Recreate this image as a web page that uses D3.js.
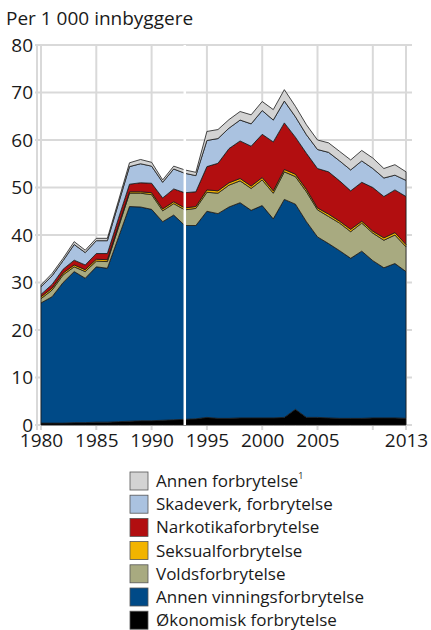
<!DOCTYPE html>
<html>
<head>
<meta charset="utf-8">
<script src="https://cdn.jsdelivr.net/npm/d3@7"></script>
<style>
  body { margin: 0; background: #fff; }
  svg text { font-family: "Open Sans", sans-serif; fill: #1a1a1a; }
</style>
</head>
<body>
<div id="container"></div>
<script>
// data, per 1 000 innbyggere
const years = d3.range(1980, 2014);
const okonomisk = [0.4,0.4,0.4,0.5,0.5,0.6,0.6,0.7,0.8,0.9,0.9,1.0,1.1,1.2,1.3,1.6,1.4,1.4,1.5,1.5,1.5,1.5,1.6,3.3,1.6,1.6,1.5,1.4,1.4,1.4,1.5,1.5,1.5,1.4];
const vinning = [25.3,26.6,29.6,31.8,30.4,32.7,32.4,38.8,45.2,45.0,44.5,41.8,43.1,40.8,40.7,43.4,43.1,44.5,45.3,43.7,44.7,41.9,45.9,43.2,41.2,38.0,36.7,35.3,33.7,35.2,33.1,31.6,32.5,30.9];
const volds = [0.9,1.4,1.6,1.0,1.4,1.2,1.4,2.1,2.8,2.9,3.1,2.3,2.4,3.3,3.6,4.0,4.3,4.6,4.6,4.6,5.4,5.4,5.8,5.8,6.3,5.7,5.7,5.8,5.6,5.9,5.8,5.8,6.0,5.2];
const seksual = [0.4,0.4,0.4,0.4,0.4,0.4,0.4,0.4,0.3,0.3,0.4,0.4,0.4,0.4,0.4,0.5,0.5,0.5,0.5,0.5,0.5,0.5,0.5,0.5,0.5,0.4,0.5,0.4,0.5,0.4,0.4,0.5,0.5,0.5];
const narkotika = [0.5,0.8,0.8,1.0,1.0,1.2,1.3,1.5,1.6,1.9,2.0,2.3,2.7,3.2,3.1,4.9,5.8,7.2,7.9,8.4,9.1,10.3,9.8,7.8,7.6,8.3,8.9,8.5,8.1,8.2,9.2,8.7,9.0,10.1];
const skadeverk = [1.6,1.8,1.8,3.3,2.6,2.7,2.7,3.1,3.7,4.0,3.6,3.3,4.2,4.1,3.4,5.5,5.2,4.3,4.4,4.7,5.0,4.6,4.6,4.3,3.9,4.0,4.1,4.2,4.4,4.5,4.0,3.9,3.1,3.4];
const annen = [0.4,0.5,0.5,0.6,0.5,0.5,0.5,0.6,0.8,0.9,0.8,0.5,0.6,0.7,0.7,1.9,1.9,1.8,1.8,1.9,1.9,2.2,2.4,2.2,2.1,2.0,2.0,2.0,2.1,2.2,2.2,2.0,2.2,1.8];

const keys = ["okonomisk", "vinning", "volds", "seksual", "narkotika", "skadeverk", "annen"];
const labels = ["Økonomisk forbrytelse", "Annen vinningsforbrytelse", "Voldsforbrytelse",
  "Seksualforbrytelse", "Narkotikaforbrytelse", "Skadeverk, forbrytelse", "Annen forbrytelse"];
const colors = ["#000000", "#004a87", "#a8aa80", "#f2b400", "#b20e10", "#aac2e0", "#d3d3d3"];
const yTicks = [0, 10, 20, 30, 40, 50, 60, 70, 80];
const xGrid = [1980, 1985, 1990, 1995, 2000, 2005, 2010, 2013];
const xLabels = [1980, 1985, 1990, 1995, 2000, 2005, 2013];
const breakYear = 1993;

const series = {okonomisk, vinning, volds, seksual, narkotika, skadeverk, annen};
const rows = years.map((yr, i) => {
  const r = {year: yr};
  keys.forEach(k => r[k] = series[k][i]);
  return r;
});

const width = 431, height = 630;
const svg = d3.select("#container").append("svg")
  .attr("width", width).attr("height", height);

const x = d3.scaleLinear([1980, 2013], [41, 406]);
const y = d3.scaleLinear([0, 80], [425, 45]);
const color = d3.scaleOrdinal(keys, colors);

// grid
const grid = svg.append("g").attr("stroke", "#d9d9d9").attr("stroke-width", 2);
grid.selectAll("line.h").data(yTicks).join("line")
  .attr("x1", 35).attr("x2", 412)
  .attr("y1", d => y(d)).attr("y2", d => y(d));
grid.selectAll("line.v").data(xGrid).join("line")
  .attr("x1", d => x(d)).attr("x2", d => x(d))
  .attr("y1", y(80)).attr("y2", y(0) + 5);
grid.append("line").attr("x1", 37).attr("x2", 37).attr("y1", y(80)).attr("y2", y(0) + 5);

// stacked areas
const stacked = d3.stack().keys(keys)(rows);
const area = d3.area()
  .x(d => x(d.data.year))
  .y0(d => y(d[0]))
  .y1(d => y(d[1]));

svg.append("g")
  .selectAll("path")
  .data(stacked)
  .join("path")
    .attr("fill", d => color(d.key))
    .attr("stroke", "#1a1a1a")
    .attr("stroke-width", 0.8)
    .attr("stroke-linejoin", "round")
    .attr("d", area);

// break in the series
svg.append("line")
  .attr("x1", x(breakYear)).attr("x2", x(breakYear))
  .attr("y1", y(80)).attr("y2", y(0))
  .attr("stroke", "#fff").attr("stroke-width", 2.5);

// axes
const yAxis = g => g
  .attr("transform", "translate(33,0)")
  .call(d3.axisLeft(y).tickValues(yTicks).tickSize(0).tickPadding(0))
  .call(g => g.select(".domain").remove())
  .call(g => g.selectAll("text").attr("font-size", 19).attr("fill", "#1a1a1a"));
const xAxis = g => g
  .attr("transform", `translate(0,${y(0) + 8})`)
  .call(d3.axisBottom(x).tickValues(xLabels).tickFormat(d3.format("d")).tickSize(0).tickPadding(0))
  .call(g => g.select(".domain").remove())
  .call(g => g.selectAll("text").attr("font-size", 19).attr("fill", "#1a1a1a"));
svg.append("g").call(yAxis);
svg.append("g").call(xAxis);

svg.append("text")
  .attr("x", 6).attr("y", 25)
  .attr("font-size", 19)
  .text("Per 1 000 innbyggere");

// legend, top item first
const legend = svg.append("g").attr("transform", "translate(130,472)");
const items = keys.slice().reverse();
const li = legend.selectAll("g").data(items).join("g")
  .attr("transform", (d, i) => `translate(0,${i * 23.2})`);
li.append("rect")
  .attr("width", 18).attr("height", 18)
  .attr("fill", d => color(d))
  .attr("stroke", "#555").attr("stroke-width", 0.8);
const lt = li.append("text")
  .attr("x", 26).attr("y", 9).attr("dy", "0.35em")
  .attr("font-size", 17);
lt.append("tspan").text(d => labels[keys.indexOf(d)]);
lt.filter(d => d === "annen").append("tspan")
  .attr("font-size", 9).attr("dy", "-0.9em").text("1");
</script>
</body>
</html>
